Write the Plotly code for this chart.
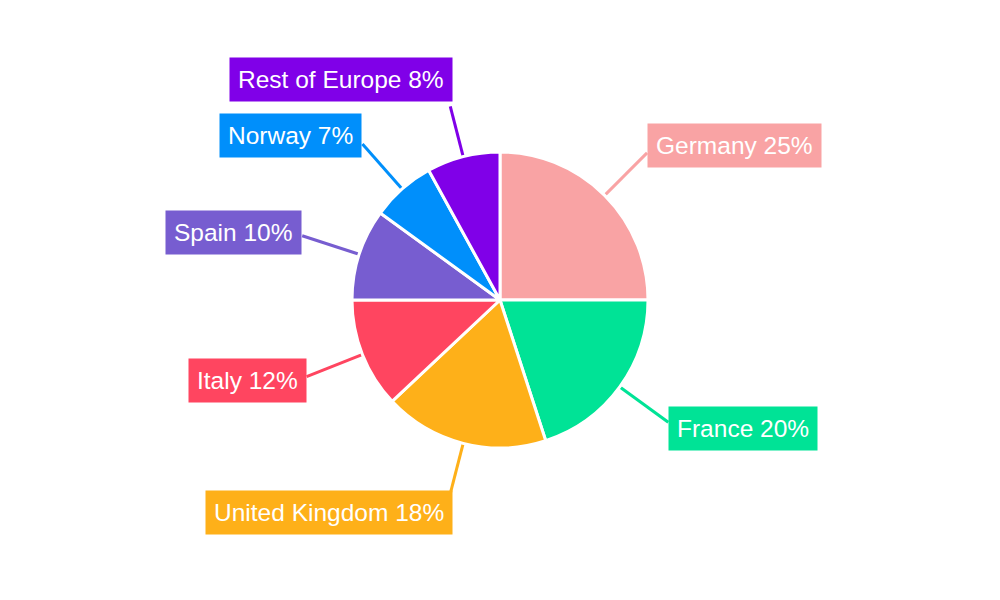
import math
import plotly.graph_objects as go

# chart data
countries = ['Germany', 'France', 'United Kingdom', 'Italy', 'Spain', 'Norway', 'Rest of Europe']
shares = [25, 20, 18, 12, 10, 7, 8]
colors = ['#F9A3A4', '#00E396', '#FEB019', '#FF4560', '#775DD0', '#008FFB', '#8000E8']

# page has an 8px body margin, so the figure is a bit smaller than the window
OFF = 8
W, H = 1000 - 2 * OFF, 600 - 2 * OFF
cx, cy, r = 500, 300, 148


def to_paper(px, py):
    # screen pixel -> paper coords
    return (px - OFF) / W, (H + OFF - py) / H


dx0, dy0 = to_paper(cx - r, cy + r)
dx1, dy1 = to_paper(cx + r, cy - r)

fig = go.Figure(go.Pie(
    labels=countries,
    values=shares,
    sort=False,
    direction='clockwise',
    rotation=0,
    textinfo='none',
    hoverinfo='label+percent',
    marker=dict(colors=colors, line=dict(color='white', width=3)),
    domain=dict(x=[dx0, dx1], y=[dy0, dy1]),
    showlegend=False,
))

# outside labels with leader lines
total = sum(shares)
start = 0.0
shapes = []
annotations = []
for name, val, col in zip(countries, shares, colors):
    mid = start + val / total * 360 / 2
    start += val / total * 360
    a = math.radians(mid)
    s, c = math.sin(a), math.cos(a)
    near_vertical = abs(c) > 0.9
    r_end = 200 if near_vertical else 208
    sx, sy = cx + (r + 1) * s, cy - (r + 1) * c
    ex, ey = cx + r_end * s, cy - r_end * c
    x0, y0 = to_paper(sx, sy)
    x1, y1 = to_paper(ex, ey)
    shapes.append(dict(type='line', xref='paper', yref='paper', x0=x0, y0=y0, x1=x1, y1=y1,
                       line=dict(color=col, width=3), layer='below'))
    xanchor = 'left' if s > 0 else 'right'
    if near_vertical:
        yanchor = 'bottom' if c > 0 else 'top'
        lx, ly = to_paper(ex + (3 if s < 0 else -3), ey - 4)
    else:
        yanchor = 'middle'
        lx, ly = to_paper(ex, ey - 11 * c)
    annotations.append(dict(
        x=lx, y=ly, xref='paper', yref='paper', xanchor=xanchor, yanchor=yanchor,
        text=f'{name} {val}%', showarrow=False, bgcolor=col, borderpad=8,
        font=dict(family='Liberation Sans, Arial', size=24.5, color='white'),
    ))

fig.update_layout(
    width=W, height=H,
    margin=dict(l=0, r=0, t=0, b=0),
    paper_bgcolor='white',
    plot_bgcolor='white',
    shapes=shapes,
    annotations=annotations,
)

fig.write_html('out.html')
